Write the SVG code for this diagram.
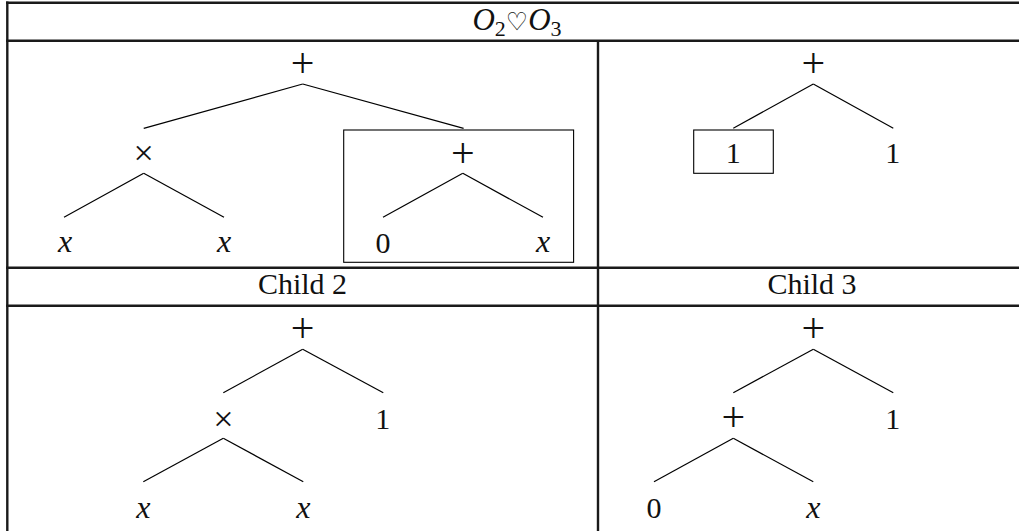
<svg xmlns="http://www.w3.org/2000/svg" width="1019" height="531" viewBox="0 0 1019 531">
<style>
.grid{stroke:#1a1a1a;stroke-width:2.4;fill:none}
.edge{stroke:#000;stroke-width:1.2;fill:none}
.box{stroke:#000;stroke-width:1.1;fill:none}
text{font-family:'Liberation Serif','Times New Roman','DejaVu Serif',serif;fill:#111}
.t{font-size:31px}
.op{font-size:42px;text-anchor:middle}
.mul{font-size:36px;text-anchor:middle}
.v{font-size:32px;font-style:italic;text-anchor:middle}
.n{font-size:30px;text-anchor:middle}
</style>
<rect width="1019" height="531" fill="#fff"/>
<g id="table">
<line class="grid" x1="6" y1="2.7" x2="1030" y2="2.7"/>
<line class="grid" x1="7.3" y1="1.5" x2="7.3" y2="535"/>
<line class="grid" x1="6" y1="40.7" x2="1030" y2="40.7"/>
<line class="grid" x1="598" y1="40.7" x2="598" y2="535"/>
<line class="grid" x1="6" y1="267.7" x2="1030" y2="267.7"/>
<line class="grid" x1="6" y1="305.7" x2="1030" y2="305.7"/>
</g>
<g id="header">
<text class="t" x="517" y="29.5" text-anchor="middle"><tspan font-style="italic">O</tspan><tspan font-size="22" dy="6">2</tspan><tspan dy="-6" font-size="25" font-family="DejaVu Sans, sans-serif">♡</tspan><tspan font-style="italic">O</tspan><tspan font-size="22" dy="6">3</tspan></text>
</g>
<g id="label-child2"><text class="n" x="302.5" y="294">Child 2</text></g>
<g id="label-child3"><text class="n" x="812" y="294">Child 3</text></g>

<g id="connectors">
<line class="edge" x1="302.7" y1="84" x2="143.7" y2="128.3"/>
<line class="edge" x1="302.7" y1="84" x2="463.6" y2="128.3"/>
<line class="edge" x1="143.7" y1="173.3" x2="64" y2="217.3"/>
<line class="edge" x1="143.7" y1="173.3" x2="224" y2="217.3"/>
<line class="edge" x1="462.8" y1="173.3" x2="383" y2="217.3"/>
<line class="edge" x1="462.8" y1="173.3" x2="543" y2="217.3"/>
<line class="edge" x1="813.3" y1="84" x2="733.3" y2="128.3"/>
<line class="edge" x1="813.3" y1="84" x2="893.3" y2="128.3"/>
<line class="edge" x1="302.7" y1="349.3" x2="223.3" y2="392.7"/>
<line class="edge" x1="302.7" y1="349.3" x2="383.3" y2="392.7"/>
<line class="edge" x1="223.3" y1="438.3" x2="143.3" y2="481.7"/>
<line class="edge" x1="223.3" y1="438.3" x2="303.3" y2="481.7"/>
<line class="edge" x1="813.3" y1="349.3" x2="733.3" y2="392.7"/>
<line class="edge" x1="813.3" y1="349.3" x2="893.3" y2="392.7"/>
<line class="edge" x1="733.3" y1="438.3" x2="654" y2="481.7"/>
<line class="edge" x1="733.3" y1="438.3" x2="813.3" y2="481.7"/>
</g>

<g id="p1-root"><text class="op" x="302.7" y="76.6">+</text></g>
<g id="p1-times"><text class="mul" x="143.7" y="165">×</text></g>
<g id="p1-x1"><text class="v" x="65" y="252">x</text></g>
<g id="p1-x2"><text class="v" x="224" y="252">x</text></g>
<g id="p1-sub"><rect class="box" x="343.7" y="130" width="229.9" height="132.3"/><text class="op" x="462.8" y="166.6">+</text></g>
<g id="p1-zero"><text class="n" x="383" y="252.5">0</text></g>
<g id="p1-x3"><text class="v" x="543" y="252">x</text></g>

<g id="p2-root"><text class="op" x="813.3" y="76.6">+</text></g>
<g id="p2-one1"><rect class="box" x="693.7" y="130" width="79.6" height="43.3"/><text class="n" x="733.3" y="163.3">1</text></g>
<g id="p2-one2"><text class="n" x="892.7" y="163.3">1</text></g>

<g id="p3-root"><text class="op" x="302.7" y="342.3">+</text></g>
<g id="p3-times"><text class="mul" x="223.3" y="430.7">×</text></g>
<g id="p3-one"><text class="n" x="382.7" y="428.5">1</text></g>
<g id="p3-x1"><text class="v" x="143.3" y="517.5">x</text></g>
<g id="p3-x2"><text class="v" x="303.3" y="517.5">x</text></g>

<g id="p4-root"><text class="op" x="813.3" y="342.3">+</text></g>
<g id="p4-plus"><text class="op" x="733.3" y="431.3">+</text></g>
<g id="p4-one"><text class="n" x="892.7" y="428.5">1</text></g>
<g id="p4-zero"><text class="n" x="654" y="518">0</text></g>
<g id="p4-x"><text class="v" x="813.3" y="517.5">x</text></g>
</svg>
